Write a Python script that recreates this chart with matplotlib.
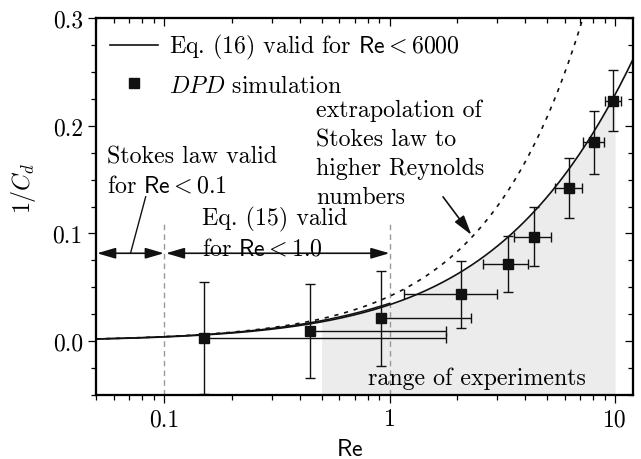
import numpy as np
import matplotlib
matplotlib.use("Agg")
import matplotlib.pyplot as plt
from matplotlib.ticker import FixedLocator, FixedFormatter, LogLocator, MultipleLocator, FormatStrFormatter, NullFormatter

plt.rcParams['font.family'] = 'cmr10'
plt.rcParams['mathtext.fontset'] = 'cm'
plt.rcParams['axes.formatter.use_mathtext'] = True

# DPD simulation results: Reynolds number, inverse drag coefficient, errors
re_sim = np.array([0.151, 0.443, 0.918, 2.075, 3.355, 4.38, 6.26, 8.07, 9.83])
inv_cd_sim = np.array([0.003, 0.0096, 0.0211, 0.0434, 0.0716, 0.097, 0.142, 0.1845, 0.2233])
inv_cd_err = np.array([0.052, 0.0435, 0.044, 0.031, 0.026, 0.0275, 0.028, 0.029, 0.028])
re_err = np.array([1.62, 1.33, 1.37, 0.91, 0.77, 0.81, 0.85, 0.90, 0.84])

x_ticks = [0.1, 1, 10]
x_tick_labels = ['0.1', '1', '10']
re_limits = (0.05, 12.0)
exp_range = (0.5, 10.0)

FS = 17.2
TICK_FS = 17


def cd_eq16(re):
    # Abraham correlation
    return 0.2924 * (1 + 9.06 / np.sqrt(re)) ** 2


def cd_eq15(re):
    # Oseen correction
    return 24.0 / re * (1 + 3.0 / 16.0 * re)


def cd_stokes(re):
    return 24.0 / re


fig = plt.figure(figsize=(6.41, 4.60), dpi=100)
ax = fig.add_axes([0.1498, 0.1391, 0.8377, 0.8196])
ax.set_xscale('log')

re = np.logspace(np.log10(re_limits[0]), np.log10(re_limits[1]), 400)
re_exp = np.logspace(np.log10(exp_range[0]), np.log10(exp_range[1]), 200)
ax.fill_between(re_exp, -0.05, 1 / cd_eq16(re_exp), color='#ececec', lw=0, zorder=0)

ax.plot(re, 1 / cd_stokes(re), color='#111111', lw=1.2, ls=(0, (2.5, 3.5)), zorder=2)
re15 = re[re <= 1.0]
ax.plot(re15, 1 / cd_eq15(re15), color='#111111', lw=1.1, zorder=2)
ax.plot(re, 1 / cd_eq16(re), color='#111111', lw=1.2, zorder=3,
        label=r'Eq. (16) valid for $\mathsf{Re} < 6000$')

# lower x errors reaching below zero are cut at the point itself
re_err_lo = np.where(re_err >= re_sim, 0.0, re_err)
ax.errorbar(re_sim, inv_cd_sim, yerr=inv_cd_err, xerr=[re_err_lo, re_err],
            fmt='none', ecolor='#111111', elinewidth=1.0, capsize=3.5, capthick=1.0, zorder=4)
ax.plot(re_sim, inv_cd_sim, 's', color='#111111', ms=7, ls='none', zorder=5,
        label=r'$DPD$ simulation')

# validity ranges
for xv in [0.1, 1.0]:
    ax.plot([xv, xv], [-0.05, 0.111], color='#999999', lw=1.0, ls=(0, (4, 3)), zorder=1)

arrow_kw = dict(arrowstyle='<|-|>,head_length=0.65,head_width=0.19', color='#111111',
                lw=1.2, shrinkA=0, shrinkB=0)
ax.annotate('', xy=(0.1, 0.0816), xytext=(0.0505, 0.0816), arrowprops=arrow_kw, fontsize=FS)
ax.annotate('', xy=(1.0, 0.0816), xytext=(0.102, 0.0816), arrowprops=arrow_kw, fontsize=FS)
ax.plot([0.083, 0.0711], [0.134, 0.0816], color='#111111', lw=1.0)

# multi-line texts are placed by the baseline of their last line
ax.text(0.0558, 0.1386, 'Stokes law valid\nfor $\\mathsf{Re} < 0.1$', fontsize=FS,
        ha='left', va='baseline', linespacing=1.4)
ax.text(0.148, 0.080, 'Eq. (15) valid\nfor $\\mathsf{Re} < 1.0$', fontsize=FS,
        ha='left', va='baseline', linespacing=1.4)
ax.text(0.4737, 0.128, 'extrapolation of\nStokes law to\nhigher Reynolds\nnumbers', fontsize=FS,
        ha='left', va='baseline', linespacing=1.4)
ax.annotate('', xy=(2.307, 0.0986), xytext=(1.726, 0.134),
            arrowprops=dict(arrowstyle='-|>,head_length=0.7,head_width=0.2', color='#111111',
                            lw=1.2, shrinkA=0, shrinkB=0), fontsize=FS)
ax.text(0.801, -0.0394, 'range of experiments', fontsize=FS, ha='left', va='baseline')

ax.set_xlim(*re_limits)
ax.set_ylim(-0.05, 0.3)
ax.xaxis.set_major_locator(FixedLocator(x_ticks))
ax.xaxis.set_major_formatter(FixedFormatter(x_tick_labels))
ax.xaxis.set_minor_locator(LogLocator(base=10, subs=np.arange(2, 10)))
ax.xaxis.set_minor_formatter(NullFormatter())
ax.yaxis.set_major_locator(MultipleLocator(0.1))
ax.yaxis.set_minor_locator(MultipleLocator(0.025))
ax.yaxis.set_major_formatter(FormatStrFormatter('%.1f'))
ax.tick_params(which='both', direction='out', width=0.9, labelsize=TICK_FS, pad=4)
ax.tick_params(which='major', length=5.5)
ax.tick_params(which='minor', length=3.5)
for sp in ax.spines.values():
    sp.set_linewidth(1.5)

ax.set_xlabel(r'$\mathsf{Re}$', fontsize=FS)
ax.xaxis.set_label_coords(0.473, -0.113)
ax.set_ylabel(r'$1/C_d$', fontsize=FS)
ax.yaxis.set_label_coords(-0.108, 0.55)

# inward ticks on top and right
ax_top = ax.twiny()
ax_top.set_xscale('log')
ax_top.set_xlim(*re_limits)
ax_top.xaxis.set_major_locator(FixedLocator(x_ticks))
ax_top.xaxis.set_minor_locator(LogLocator(base=10, subs=np.arange(2, 10)))
ax_top.tick_params(axis='x', which='both', direction='in', width=0.9, labeltop=False)
ax_top.tick_params(axis='x', which='major', length=5.5)
ax_top.tick_params(axis='x', which='minor', length=3.5)

ax_right = ax.twinx()
ax_right.set_ylim(-0.05, 0.3)
ax_right.yaxis.set_major_locator(MultipleLocator(0.1))
ax_right.yaxis.set_minor_locator(MultipleLocator(0.025))
ax_right.tick_params(axis='y', which='both', direction='in', width=0.9, labelright=False)
ax_right.tick_params(axis='y', which='major', length=5.5)
ax_right.tick_params(axis='y', which='minor', length=3.5)
for a in (ax_top, ax_right):
    for sp in a.spines.values():
        sp.set_linewidth(1.5)

ax.legend(loc='upper left', bbox_to_anchor=(0.0, 1.0), frameon=False, fontsize=FS,
          handlelength=2.0, handletextpad=0.46, labelspacing=0.55, borderaxespad=0.2,
          numpoints=1)

fig.savefig('out.png', dpi=100)
